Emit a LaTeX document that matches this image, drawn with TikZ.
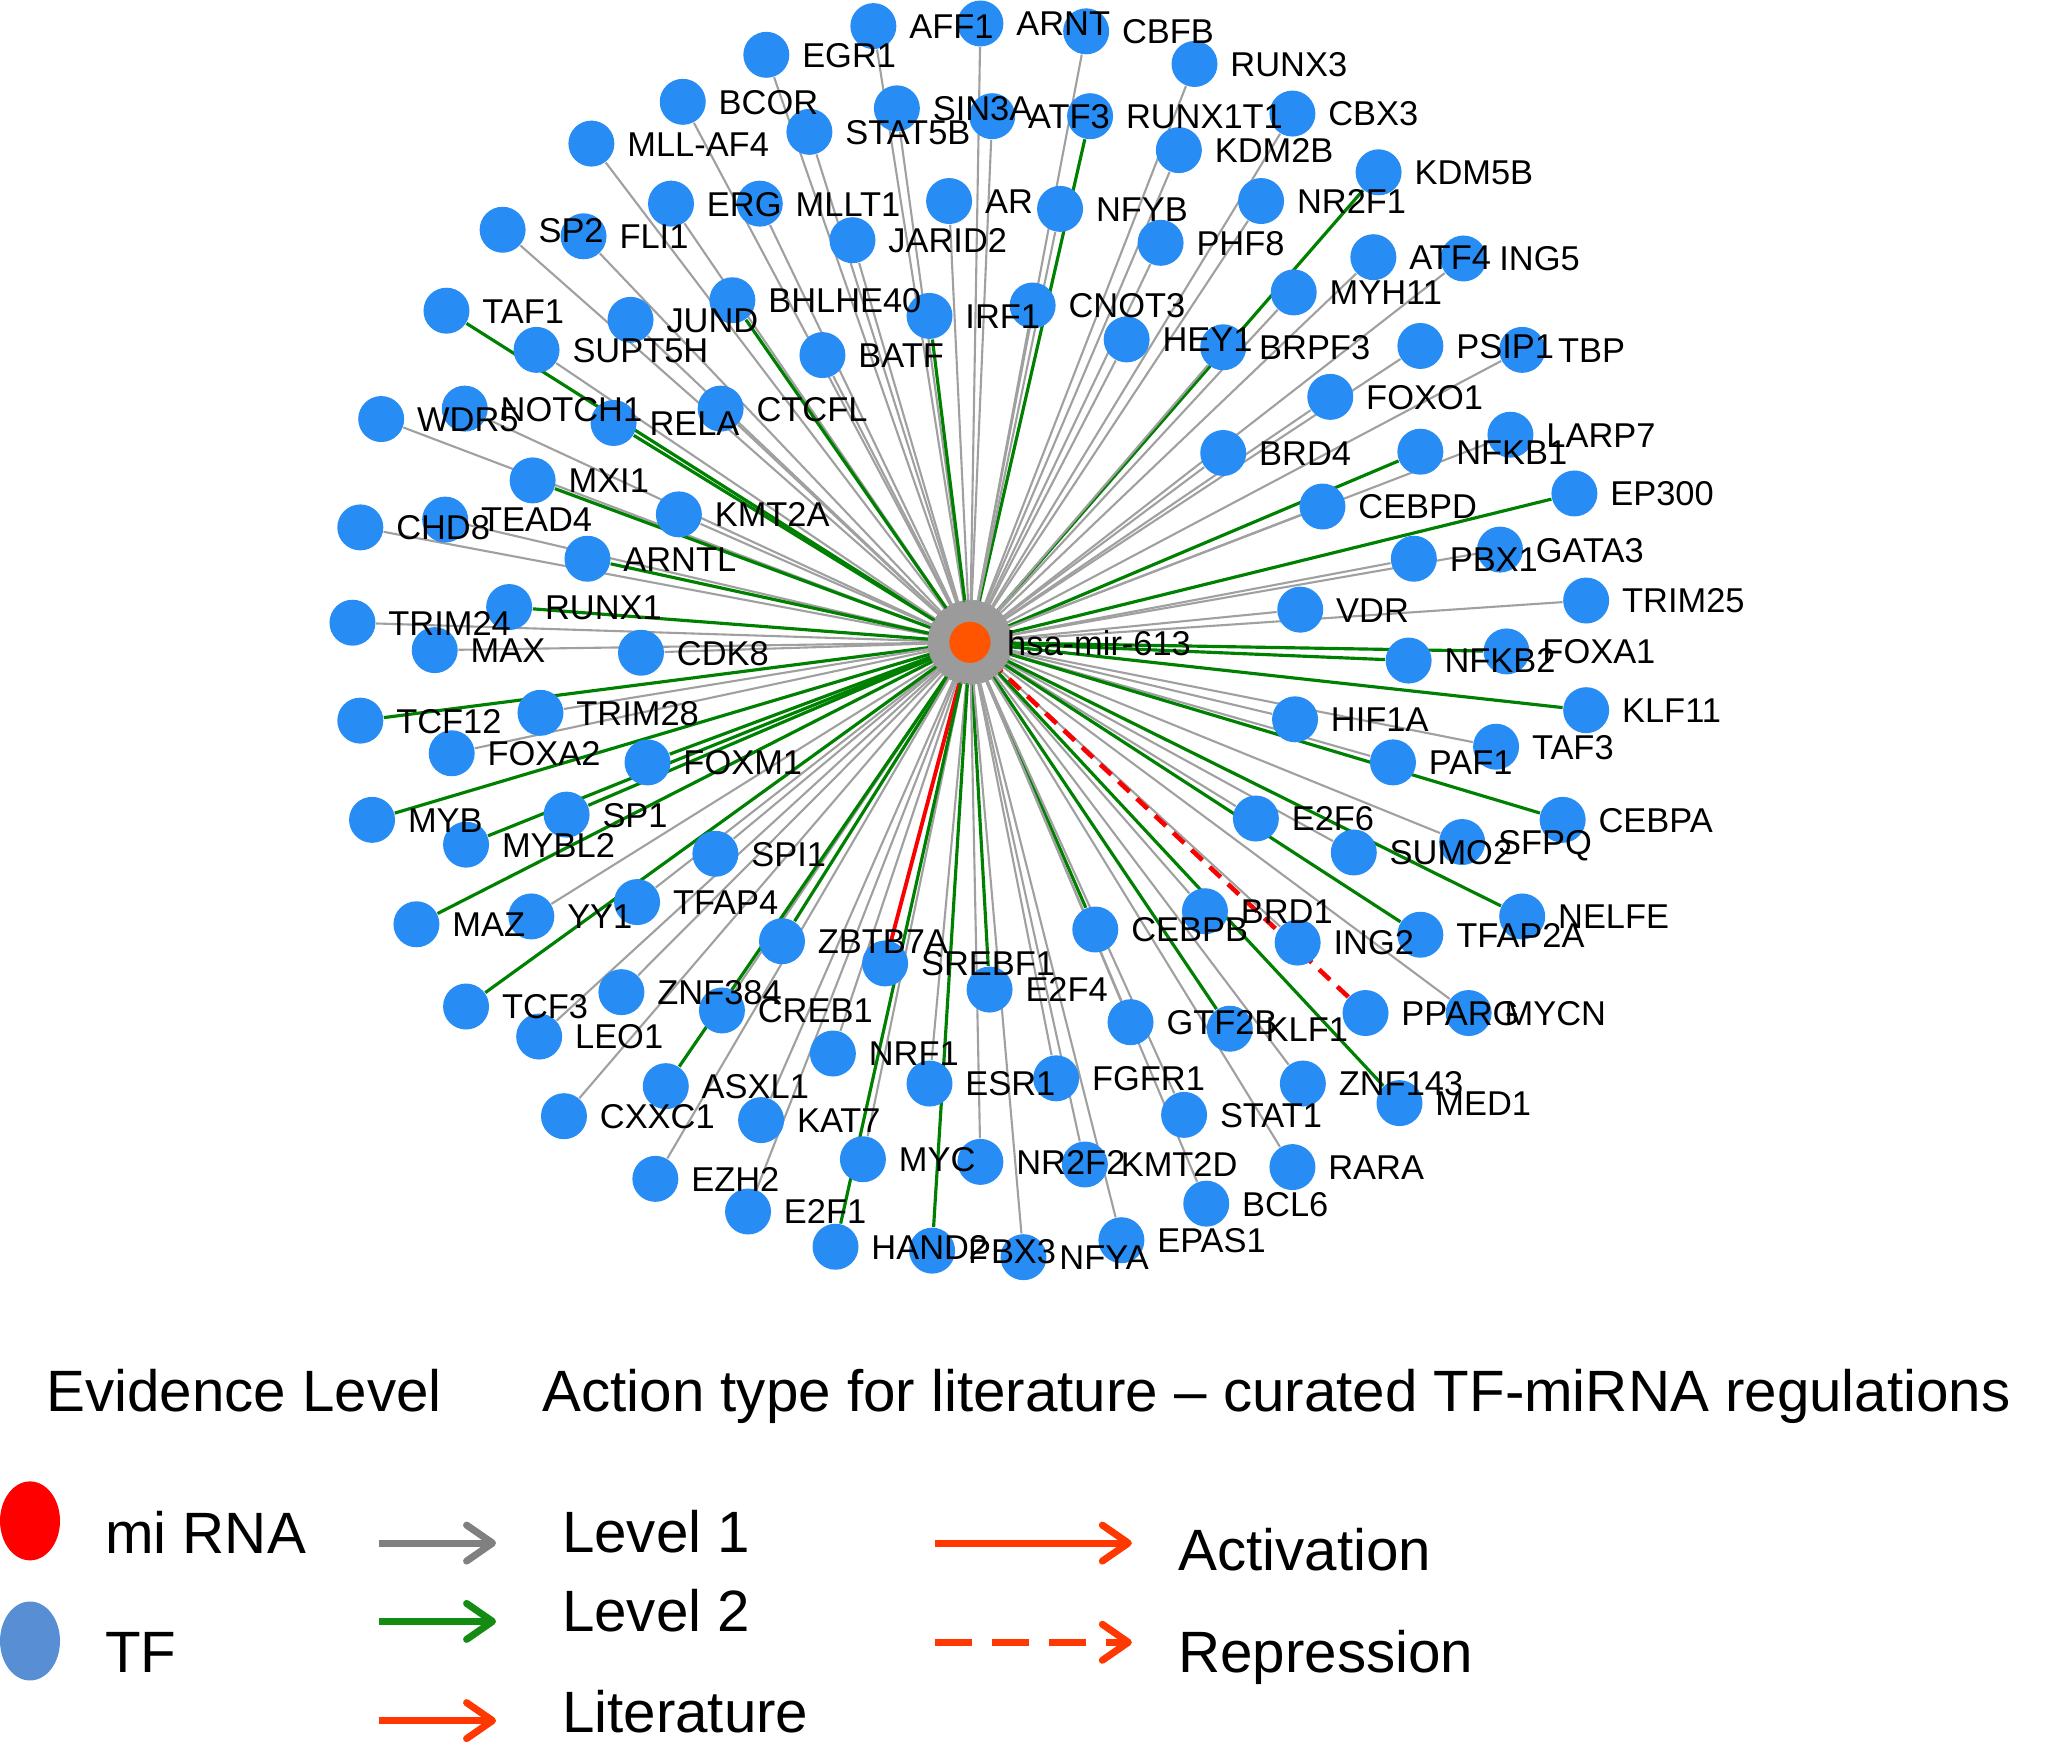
\documentclass[tikz,border=0pt]{standalone}
\usepackage{fontspec}
\setmainfont{Liberation Sans}
\usetikzlibrary{arrows.meta, shapes.geometric, positioning}

\definecolor{tfblue}{RGB}{40,140,245}
\definecolor{mirorange}{RGB}{255,85,0}
\definecolor{edgegray}{RGB}{160,160,160}
\definecolor{halogray}{RGB}{155,155,155}
\definecolor{edgegreen}{RGB}{0,128,0}
\definecolor{actred}{RGB}{250,0,0}
\definecolor{keyred}{RGB}{255,0,0}
\definecolor{keyblue}{RGB}{88,142,212}
\definecolor{keygray}{RGB}{128,128,128}
\definecolor{keygreen}{RGB}{20,140,20}
\definecolor{keyorange}{RGB}{255,55,0}

\pgfdeclarelayer{edges}
\pgfsetlayers{edges,main}

\tikzstyle{tf} = [circle, fill=tfblue, minimum size=0.46cm, inner sep=0pt]
\tikzstyle{mirna} = [circle, fill=mirorange, draw=halogray, line width=1.6pt, outer sep=0pt, minimum size=0.47cm, inner sep=0pt]
\tikzstyle{tflabel} = [anchor=base west, inner sep=0pt, font=\fontsize{9.8}{11}\selectfont]
\tikzstyle{arrow} = [-{Triangle[length=0.17cm, width=0.26cm, color=halogray]}]
\tikzstyle{edge1} = [arrow, draw=edgegray, line width=0.6pt]
\tikzstyle{edge2} = [arrow, draw=edgegreen, line width=0.9pt]
\tikzstyle{edgeact} = [arrow, draw=actred, line width=1.1pt]
\tikzstyle{edgerep} = [arrow, draw=actred, line width=1.3pt, dash pattern=on 0.15cm off 0.1cm]
\tikzset{
	keytext/.style = {anchor=base west, inner sep=0pt, font=\fontsize{16.6}{19}\selectfont},
	keydot/.style = {ellipse, minimum width=0.6cm, minimum height=0.79cm, inner sep=0pt},
	keyarrow/.style = {line width=2pt,
		-{Straight Barb[length=0.26cm, width=0.36cm, line width=2pt, round]}},
}

% name/x/y/evidence level (1, 2, act, rep)
\def\tflist{AFF1/669/20/1, ARNT/751/18/1, CBFB/832/24/1, RUNX3/915/49/1,
EGR1/587/42/1, BCOR/523/78/1, SIN3A/687/83/1, ATF3/760/89/1, RUNX1T1/835/89/2,
CBX3/990/87/1, STAT5B/620/101/1, MLL-AF4/453/110/1, KDM2B/903/115/1,
KDM5B/1056/132/2, ERG/514/156/1, MLLT1/582/156/1, AR/727/154/1, NFYB/812/160/1,
NR2F1/966/154/1, SP2/385/176/1, FLI1/447/181/1, JARID2/653/184/1, PHF8/889/186/1,
ATF4/1052/197/1, ING5/1121/198/1, MYH11/991/224/1, TAF1/342/238/2,
BHLHE40/561/230/2, JUND/483/245/1, IRF1/712/242/2, CNOT3/791/234/1,
HEY1/863/260/1, BRPF3/937/266/1, PSIP1/1088/265/1, TBP/1166/268/1,
SUPT5H/411/268/1, BATF/630/272/1, WDR5/292/321/1, NOTCH1/356/313/1,
RELA/470/324/2, CTCFL/552/313/1, FOXO1/1019/304/1, LARP7/1157/333/1,
NFKB1/1088/346/2, BRD4/937/347/1, MXI1/408/368/2, KMT2A/520/394/1,
CEBPD/1013/388/1, EP300/1206/378/2, CHD8/276/404/1, TEAD4/341/398/1,
ARNTL/450/428/2, PBX1/1083/428/1, GATA3/1149/421/1, TRIM24/270/477/1,
RUNX1/390/465/2, MAX/333/498/1, CDK8/491/500/1, VDR/996/467/1, TRIM25/1215/460/1,
NFKB2/1079/506/2, FOXA1/1154/499/2, TCF12/276/552/2, TRIM28/414/546/1,
FOXA2/346/577/1, FOXM1/496/584/2, HIF1A/992/551/1, KLF11/1215/544/2,
PAF1/1067/584/1, TAF3/1146/572/1, MYB/285/628/2, SP1/434/624/2, MYBL2/357/647/2,
SPI1/548/654/1, E2F6/962/627/1, SUMO2/1037/653/1, SFPQ/1120/645/1,
CEBPA/1197/628/2, MAZ/319/708/2, YY1/407/702/1, TFAP4/488/691/1,
ZBTB7A/599/721/2, CEBPB/839/712/2, BRD1/923/698/1, ING2/994/722/1,
TFAP2A/1088/716/2, NELFE/1166/702/2, SREBF1/678/738/act, E2F4/758/758/2,
TCF3/357/771/2, ZNF384/476/760/1, CREB1/553/774/1, LEO1/413/794/1,
GTF2B/866/783/1, KLF1/942/788/2, PPARG/1046/776/rep, MYCN/1125/776/1,
NRF1/638/807/1, ESR1/712/830/1, FGFR1/809/826/1, ZNF143/998/830/1,
MED1/1072/845/2, CXXC1/432/855/1, ASXL1/510/832/2, KAT7/583/858/1,
STAT1/907/854/1, MYC/661/888/1, NR2F2/751/890/1, KMT2D/831/892/1,
RARA/990/894/1, EZH2/502/903/1, E2F1/573/928/1, BCL6/924/922/1,
HAND2/640/955/2, PBX3/714/958/2, NFYA/784/963/1, EPAS1/859/950/1}

\begin{document}
\begin{tikzpicture}[x=0.013055cm, y=-0.013055cm]
\useasboundingbox (0,0) rectangle (1568,1342);

% network nodes
\node (mir) [mirna] at (743,492) {};
\foreach \n/\x/\y/\lv in \tflist
	\node (\n) [tf] at (\x,\y) {};

% labels on top of the circles
\foreach \n/\x/\y/\lv in \tflist
	\node (\n-lbl) [tflabel] at (\x+27,\y+9.5) {\n};
\node (mir-lbl) [tflabel] at (771,502) {hsa-mir-613};

% TF -> miRNA edges
\begin{pgfonlayer}{edges}
\foreach \n/\x/\y/\lv in \tflist
	\draw [edge\lv] (\n) -- (mir);
\end{pgfonlayer}

%% legend
\node (evid) [keytext] at (35,1081) {Evidence Level};
\node (action) [keytext] at (415,1081) {Action type for literature – curated TF-miRNA regulations};

\node (keymir) [keydot, fill=keyred] at (23,1165) {};
\node (keymir-lbl) [keytext] at (80,1190) {mi RNA};
\node (keytf) [keydot, fill=keyblue] at (23,1257) {};
\node (keytf-lbl) [keytext] at (80,1281) {TF};

\coordinate (l1a) at (290,1182); \coordinate (l1b) at (380,1182);
\coordinate (l2a) at (290,1242); \coordinate (l2b) at (380,1242);
\coordinate (lita) at (290,1318); \coordinate (litb) at (380,1318);
\coordinate (acta) at (716,1182); \coordinate (actb) at (867,1182);
\coordinate (repa) at (716,1258); \coordinate (repb) at (867,1258);

\draw [keyarrow, draw=keygray] (l1a) -- (l1b);
\draw [keyarrow, draw=keygreen] (l2a) -- (l2b);
\draw [keyarrow, draw=keyorange] (lita) -- (litb);
\draw [keyarrow, draw=keyorange] (acta) -- (actb);
\draw [keyarrow, draw=keyorange, dash pattern=on 0.37cm off 0.2cm] (repa) -- (repb);

\node (l1-lbl) [keytext] at (430,1189) {Level 1};
\node (l2-lbl) [keytext] at (430,1250) {Level 2};
\node (lit-lbl) [keytext] at (430,1327) {Literature};
\node (act-lbl) [keytext] at (902,1203) {Activation};
\node (rep-lbl) [keytext] at (902,1281) {Repression};

\end{tikzpicture}
\end{document}
